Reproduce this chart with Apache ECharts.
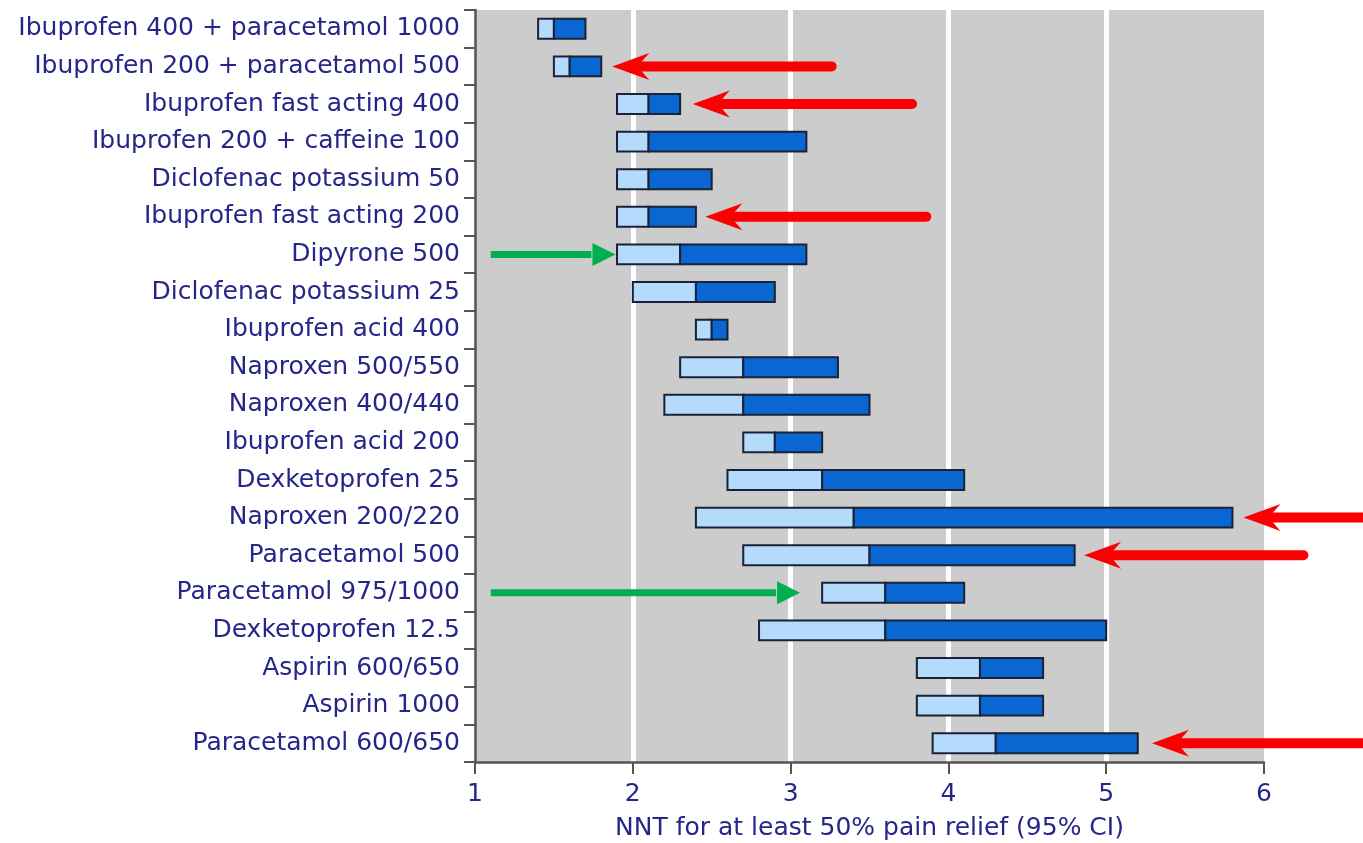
<!DOCTYPE html>
<html>
<head>
<meta charset="utf-8">
<script src="https://cdn.jsdelivr.net/npm/echarts@6/dist/echarts.min.js"></script>
<style>
html,body{margin:0;padding:0;background:#ffffff;}
#chart{width:1363px;height:843px;}
</style>
</head>
<body>
<div id="chart"></div>
<script>
const categories = [
  'Ibuprofen 400 + paracetamol 1000',
  'Ibuprofen 200 + paracetamol 500',
  'Ibuprofen fast acting 400',
  'Ibuprofen 200 + caffeine 100',
  'Diclofenac potassium 50',
  'Ibuprofen fast acting 200',
  'Dipyrone 500',
  'Diclofenac potassium 25',
  'Ibuprofen acid 400',
  'Naproxen 500/550',
  'Naproxen 400/440',
  'Ibuprofen acid 200',
  'Dexketoprofen 25',
  'Naproxen 200/220',
  'Paracetamol 500',
  'Paracetamol 975/1000',
  'Dexketoprofen 12.5',
  'Aspirin 600/650',
  'Aspirin 1000',
  'Paracetamol 600/650'
];
const lowCI  = [1.4, 1.5, 1.9, 1.9, 1.9, 1.9, 1.9, 2.0, 2.4, 2.3, 2.2, 2.7, 2.6, 2.4, 2.7, 3.2, 2.8, 3.8, 3.8, 3.9];
const nnt    = [1.5, 1.6, 2.1, 2.1, 2.1, 2.1, 2.3, 2.4, 2.5, 2.7, 2.7, 2.9, 3.2, 3.4, 3.5, 3.6, 3.6, 4.2, 4.2, 4.3];
const highCI = [1.7, 1.8, 2.3, 3.1, 2.5, 2.4, 3.1, 2.9, 2.6, 3.3, 3.5, 3.2, 4.1, 5.8, 4.8, 4.1, 5.0, 4.6, 4.6, 5.2];

const xMin = 1, xMax = 6, xInterval = 1;
const axisName = 'NNT for at least 50% pain relief (95% CI)';

// annotation arrows: row index, tail value, tip value
const redRows  = [1, 2, 5, 13, 14, 19];
const redTails = [3.26, 3.77, 3.86, 6.7, 6.25, 6.7];
const redTips  = [1.87, 2.38, 2.46, 5.87, 4.86, 5.29];
const greenRows  = [6, 15];
const greenTails = [1.1, 1.1];
const greenTips  = [1.89, 3.06];

const barData = categories.map((c, i) => [i, lowCI[i], nnt[i], highCI[i]]);
const redData = redRows.map((r, i) => [r, redTails[i], redTips[i]]);
const greenData = greenRows.map((r, i) => [r, greenTails[i], greenTips[i]]);

const navy = '#26268a';
const font = 'DejaVu Sans';

function renderBar(params, api) {
  const idx = api.value(0);
  const p0 = api.coord([api.value(1), idx]);
  const p1 = api.coord([api.value(2), idx]);
  const p2 = api.coord([api.value(3), idx]);
  const h = api.size([0, 1])[1] * 0.53;
  const stroke = '#1a2238';
  return {
    type: 'group',
    children: [
      { type: 'rect', shape: { x: p0[0], y: p0[1] - h / 2, width: p1[0] - p0[0], height: h },
        style: { fill: '#b4dafc', stroke: stroke, lineWidth: 2 } },
      { type: 'rect', shape: { x: p1[0], y: p1[1] - h / 2, width: p2[0] - p1[0], height: h },
        style: { fill: '#0a66d0', stroke: stroke, lineWidth: 2 } }
    ]
  };
}

function makeArrowRenderer(color, shaftW, headL, headW, notch, cap) {
  return function (params, api) {
    const idx = api.value(0);
    const tail = api.coord([api.value(1), idx]);
    const tip = api.coord([api.value(2), idx]);
    const dir = tip[0] < tail[0] ? -1 : 1;
    const y = tip[1];
    const shaftEnd = tip[0] - dir * (notch + 1);
    return {
      type: 'group',
      children: [
        { type: 'line', shape: { x1: tail[0], y1: y, x2: shaftEnd, y2: y },
          style: { stroke: color, lineWidth: shaftW, lineCap: cap } },
        { type: 'polygon', shape: { points: [
            [tip[0], y],
            [tip[0] - dir * headL, y - headW],
            [tip[0] - dir * notch, y],
            [tip[0] - dir * headL, y + headW]
          ] },
          style: { fill: color } }
      ]
    };
  };
}

const chart = echarts.init(document.getElementById('chart'));
chart.setOption({
  animation: false,
  backgroundColor: '#ffffff',
  grid: {
    left: 475, right: 99, top: 10, bottom: 81,
    outerBoundsMode: 'none',
    containLabel: false,
    show: true, backgroundColor: '#cccccc', borderWidth: 0
  },
  xAxis: {
    type: 'value',
    min: xMin, max: xMax, interval: xInterval,
    name: axisName,
    nameLocation: 'middle',
    nameGap: 54,
    nameTextStyle: { color: navy, fontFamily: font, fontSize: 25 },
    axisLine: { show: true, lineStyle: { color: '#555555', width: 2.5 } },
    axisTick: { show: true, length: 12, lineStyle: { color: '#555555', width: 2 } },
    axisLabel: { color: navy, fontFamily: font, fontSize: 25, margin: 20 },
    splitLine: { show: true, showMinLine: false, showMaxLine: false, lineStyle: { color: '#ffffff', width: 5 } }
  },
  yAxis: {
    type: 'category',
    data: categories,
    inverse: true,
    axisLine: { show: true, lineStyle: { color: '#555555', width: 2.5 } },
    axisTick: { show: true, length: 11, lineStyle: { color: '#555555', width: 2 } },
    axisLabel: { color: navy, fontFamily: font, fontSize: 25, margin: 15 },
    splitLine: { show: false }
  },
  series: [
    {
      type: 'custom',
      renderItem: renderBar,
      data: barData,
      encode: { y: 0, x: [1, 2, 3] },
      silent: true,
      z: 3
    },
    {
      type: 'custom',
      renderItem: makeArrowRenderer('#fa0000', 10, 37, 13.5, 25, 'round'),
      data: redData,
      encode: { y: 0, x: [1, 2] },
      clip: false,
      silent: true,
      z: 5
    },
    {
      type: 'custom',
      renderItem: makeArrowRenderer('#00b050', 7, 23, 11.5, 23, 'butt'),
      data: greenData,
      encode: { y: 0, x: [1, 2] },
      clip: false,
      silent: true,
      z: 5
    }
  ]
});
</script>
</body>
</html>
